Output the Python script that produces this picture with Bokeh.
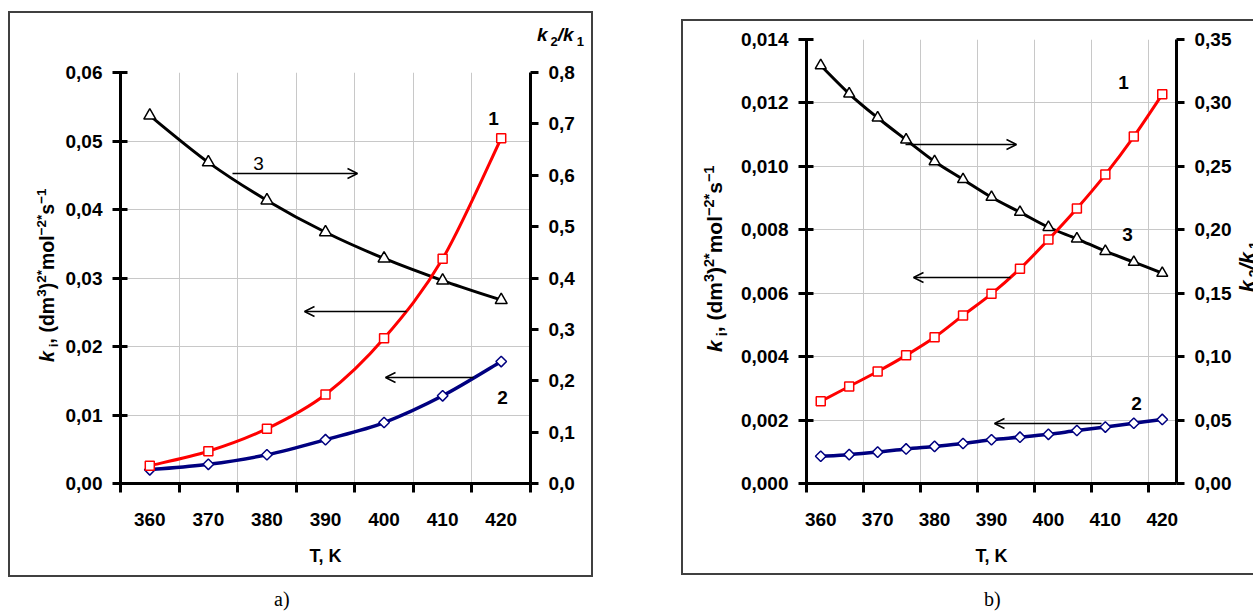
import math
from bokeh.plotting import figure
from bokeh.models import (Range1d, LinearAxis, FixedTicker, CustomJSTickFormatter,
                          Label, Arrow, OpenHead, Div, Spacer)
from bokeh.layouts import row, column
from bokeh.embed import file_html
from bokeh.resources import INLINE

# ---------------- data (panel a) ----------------
T_a = [360, 370, 380, 390, 400, 410, 420]
k1_a = [0.0026, 0.0047, 0.0080, 0.0130, 0.0212, 0.0328, 0.0504]
k2_a = [0.0020, 0.0028, 0.0042, 0.0064, 0.0089, 0.0128, 0.0178]
ratio_a = [0.716, 0.625, 0.551, 0.489, 0.438, 0.395, 0.357]
left_ticks_a = [0.0, 0.01, 0.02, 0.03, 0.04, 0.05, 0.06]
right_ticks_a = [0.0, 0.1, 0.2, 0.3, 0.4, 0.5, 0.6, 0.7, 0.8]
xlabels_a = [360, 370, 380, 390, 400, 410, 420]

# ---------------- data (panel b) ----------------
T_b = [360, 365, 370, 375, 380, 385, 390, 395, 400, 405, 410, 415, 420]
k1_b = [0.00259, 0.00306, 0.00353, 0.00404, 0.00461, 0.00530, 0.00598,
        0.00677, 0.00769, 0.00867, 0.00974, 0.01094, 0.01227]
k2_b = [0.00086, 0.00091, 0.00099, 0.00109, 0.00117, 0.00126, 0.00138,
        0.00146, 0.00155, 0.00167, 0.00178, 0.00190, 0.00202]
ratio_b = [0.3295, 0.3072, 0.2883, 0.2709, 0.2538, 0.2397, 0.2257,
           0.2139, 0.2020, 0.1929, 0.1831, 0.1745, 0.1658]
left_ticks_b = [0.0, 0.002, 0.004, 0.006, 0.008, 0.010, 0.012, 0.014]
right_ticks_b = [0.0, 0.05, 0.10, 0.15, 0.20, 0.25, 0.30, 0.35]
xlabels_b = [360, 370, 380, 390, 400, 410, 420]

FONT = "Liberation Sans"
GRID = "#c8c8c8"
BOX = "#404040"
TICK_FS = "19px"
TXT_FS = "19px"
M0 = (0, 0, 0, 0)


def smooth(xs, ys):
    n = len(xs)
    d = dict(x0=[], y0=[], x1=[], y1=[], cx0=[], cy0=[], cx1=[], cy1=[])
    for i in range(n - 1):
        ip = max(i - 1, 0)
        inn = min(i + 2, n - 1)
        d["x0"].append(xs[i]); d["y0"].append(ys[i])
        d["x1"].append(xs[i + 1]); d["y1"].append(ys[i + 1])
        d["cx0"].append(xs[i] + (xs[i + 1] - xs[ip]) / 6.0)
        d["cy0"].append(ys[i] + (ys[i + 1] - ys[ip]) / 6.0)
        d["cx1"].append(xs[i + 1] - (xs[inn] - xs[i]) / 6.0)
        d["cy1"].append(ys[i + 1] - (ys[inn] - ys[i]) / 6.0)
    return d


def fmt(digits):
    return CustomJSTickFormatter(code="return tick.toFixed(%d).replace('.', ',');" % digits)


def style_axis(ax):
    ax.axis_line_width = 3
    ax.axis_line_color = "black"
    ax.major_tick_line_width = 3
    ax.major_tick_line_color = "black"
    ax.minor_tick_line_color = None
    ax.major_label_text_font = FONT
    ax.major_label_text_font_size = TICK_FS
    ax.major_label_text_font_style = "bold"
    ax.major_label_text_color = "black"


def build(T, k1, k2, ratio, xr, yl, yr, lticks, rticks, ldig, rdig, xlabels,
          bounds, w, h, mb, sizes):
    p = figure(width=w, height=h, x_range=Range1d(*xr), y_range=Range1d(*yl),
               output_backend="svg", toolbar_location=None,
               min_border_left=mb[0], min_border_right=mb[1],
               min_border_top=mb[2], min_border_bottom=mb[3],
               outline_line_color=None, margin=M0)
    p.extra_y_ranges = {"right": Range1d(*yr)}

    xa = p.xaxis[0]
    style_axis(xa)
    xa.ticker = FixedTicker(ticks=xlabels, minor_ticks=bounds)
    xa.major_tick_line_color = None
    xa.major_tick_out = 0
    xa.major_tick_in = 0
    xa.minor_tick_line_color = "black"
    xa.minor_tick_line_width = 3
    xa.minor_tick_out = 9
    xa.minor_tick_in = 0
    xa.major_label_standoff = 20
    xa.axis_label = "T, K"
    xa.axis_label_text_font = FONT
    xa.axis_label_text_font_size = "18px"
    xa.axis_label_text_font_style = "bold"
    xa.axis_label_text_color = "black"
    xa.axis_label_standoff = 17

    ya = p.yaxis[0]
    style_axis(ya)
    ya.ticker = FixedTicker(ticks=lticks)
    ya.formatter = fmt(ldig)
    ya.major_tick_out = 8
    ya.major_tick_in = 7
    ya.major_label_standoff = 10

    ra = LinearAxis(y_range_name="right")
    style_axis(ra)
    ra.ticker = FixedTicker(ticks=rticks)
    ra.formatter = fmt(rdig)
    ra.major_tick_out = 8
    ra.major_tick_in = 0
    ra.major_label_standoff = 10
    p.add_layout(ra, "right")

    p.xgrid.grid_line_color = None
    p.xgrid.minor_grid_line_color = GRID
    p.ygrid.grid_line_color = GRID

    ms_sq, ms_di, ms_tr = sizes
    p.bezier(line_color="black", line_width=3, y_range_name="right", **smooth(T, ratio))
    p.scatter(T, ratio, marker="triangle", size=ms_tr, line_color="black",
              fill_color="white", line_width=1.5, y_range_name="right")
    p.bezier(line_color="#000080", line_width=3.5, **smooth(T, k2))
    p.scatter(T, k2, marker="square", angle=math.pi / 4, size=ms_di, line_color="#000080",
              fill_color="white", line_width=1.5)
    p.bezier(line_color="#ff0000", line_width=3, **smooth(T, k1))
    p.scatter(T, k1, marker="square", size=ms_sq, line_color="#ff0000",
              fill_color="white", line_width=1.5)
    return p


def lab(p, x, y, text, style="bold"):
    p.add_layout(Label(x=x, y=y, text=text, text_font=FONT, text_font_size=TXT_FS,
                       text_font_style=style, text_color="black",
                       text_align="center", text_baseline="middle"))


def arrow(p, xs, ys, xe, ye):
    p.add_layout(Arrow(end=OpenHead(size=10, line_width=1.5, line_color="black"),
                       x_start=xs, y_start=ys, x_end=xe, y_end=ye,
                       line_width=1.5, line_color="black"))


def line_div(w, h):
    return Div(text="", width=w, height=h, margin=M0,
               styles={"background-color": BOX})


def sp(w, h):
    return Spacer(width=w, height=h, margin=M0)


def html_font(fs):
    return ("font-family:'Liberation Sans',Arial,sans-serif;font-size:%spx;"
            "font-weight:bold;color:black;white-space:nowrap;" % fs)


def ytitle_html(ss):
    sup = '<sup style="font-size:%spx">%%s</sup>' % ss
    return ('<i>k</i>' + '<sub style="font-size:%spx;margin-left:4px">i</sub>' % ss +
            ', (dm' + sup % '3' + ')' + sup % '2*' + 'mol' + sup % '&minus;2*' +
            's' + sup % '&minus;1')


def rtitle_html(ss):
    sub = '<sub style="font-size:%spx;margin-left:3px">%%s</sub>' % ss
    return '<i>k</i>' + sub % '2' + '<i>/k</i>' + sub % '1'


def rotated_div(html, fs, w, h, x, y):
    inner = ('<div style="%swidth:300px;height:24px;line-height:24px;transform-origin:0 0;'
             'transform:translate(%dpx,%dpx) rotate(-90deg);">%s</div>') % (
                 html_font(fs), x, y, html)
    return Div(text=inner, width=w, height=h, margin=M0)


# ---------------- panel a ----------------
bounds_a = [t - 5 for t in T_a] + [T_a[-1] + 5]
pa = build(T_a, k1_a, k2_a, ratio_a, (355, 425), (0, 0.06), (0, 0.8),
           left_ticks_a, right_ticks_a, 2, 1, xlabels_a, bounds_a,
           531, 525, (60, 61, 22, 92), (9, 7.5, 12))


def dxa(px):
    return 355 + (px - 120) * 70.0 / 410.0


def dya(py):
    return (483 - py) * 0.06 / 411.0


arrow(pa, dxa(232), dya(173), dxa(357), dya(173))
arrow(pa, dxa(406), dya(311), dxa(304), dya(311))
arrow(pa, dxa(473), dya(377), dxa(385), dya(377))
lab(pa, dxa(258), dya(163), "3", style="normal")
lab(pa, dxa(493), dya(118), "1")
lab(pa, dxa(502), dya(397), "2")

ltitle_a = rotated_div(ytitle_html(13.5), 19.5, 50, 562, 20, 349)
rtitle_a = Div(text='<div style="%sline-height:20px;padding-top:12px;padding-left:477px">%s</div>'
               % (html_font(19), rtitle_html(13)), width=531, height=37, margin=M0)
inner_a = row(ltitle_a, column(rtitle_a, pa, spacing=0), spacing=0)
panel_a = column(line_div(585, 2),
                 row(line_div(2, 562), inner_a, line_div(2, 562), spacing=0),
                 line_div(585, 2), spacing=0)

# ---------------- panel b ----------------
bounds_b = [T_b[i] - 2.5 for i in range(0, len(T_b), 2)]
pb = build(T_b, k1_b, k2_b, ratio_b, (357.5, 422.5), (0, 0.014), (0, 0.35),
           left_ticks_b, right_ticks_b, 3, 2, xlabels_b, bounds_b,
           501, 552, (73, 58, 18, 90), (9, 7.5, 11))


def dxb(px):
    return 357.5 + (px - 806) * 65.0 / 370.0


def dyb(py):
    return (483 - py) * 0.014 / 444.0


arrow(pb, dxb(905), dyb(144), dxb(1016), dyb(144))
arrow(pb, dxb(1010), dyb(277), dxb(913), dyb(277))
arrow(pb, dxb(1101), dyb(423), dxb(994), dyb(423))
lab(pb, dxb(1123), dyb(82), "1")
lab(pb, dxb(1127), dyb(234), "3")
lab(pb, dxb(1136), dyb(403), "2")

ltitle_b = rotated_div(ytitle_html(14.5), 21, 50, 552, 14, 331)
rtitle_b = rotated_div(rtitle_html(14), 21, 19, 552, 1, 271)
inner_b = row(ltitle_b, pb, rtitle_b, spacing=0)
panel_b = column(line_div(572, 2),
                 row(line_div(2, 552), inner_b, spacing=0),
                 line_div(572, 2), spacing=0)

cap_style = ("font-family:'Liberation Serif',serif;font-size:20px;line-height:20px;"
             "color:black;")
div_a = Div(text='<div style="%spadding-top:12px;padding-left:266px">a)</div>' % cap_style,
            width=585, height=32, margin=M0)
div_b = Div(text='<div style="%spadding-top:14px;padding-left:303px">b)</div>' % cap_style,
            width=572, height=32, margin=M0)

layout = row(sp(8, 10),
             column(sp(585, 11), panel_a, div_a, spacing=0),
             sp(88, 10),
             column(sp(572, 19), panel_b, div_b, spacing=0),
             spacing=0)

open("out.html", "w").write(file_html(layout, INLINE))
